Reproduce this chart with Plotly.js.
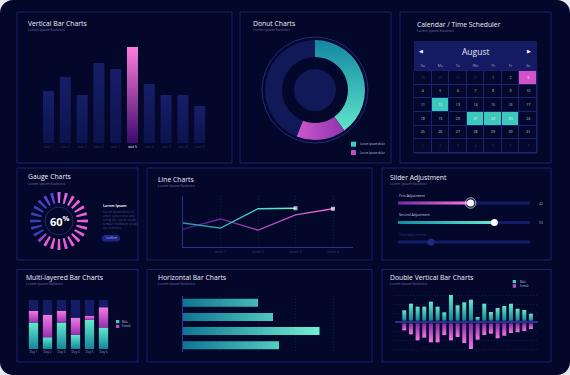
<!DOCTYPE html>
<html><head><meta charset="utf-8">
<script src="https://cdn.plot.ly/plotly-3.0.1.min.js"></script>
<style>
html,body{margin:0;padding:0;background:#e9eaf0;}
#chart{width:570px;height:375px;background:#03072a;border-radius:13px;overflow:hidden;}
</style></head><body>
<svg width="0" height="0" style="position:absolute">
<defs>
 <linearGradient id="gHi" x1="0" y1="0" x2="0" y2="1"><stop offset="0" stop-color="#ff7cdb"/><stop offset="1" stop-color="#3a0a6c"/></linearGradient>
 <linearGradient id="gNavy" x1="0" y1="0" x2="0" y2="1"><stop offset="0" stop-color="#161e68"/><stop offset="1" stop-color="#0d134e"/></linearGradient>
 <linearGradient id="gDonutTeal" x1="0" y1="0" x2="0" y2="1"><stop offset="0" stop-color="#1386a2"/><stop offset="1" stop-color="#5fe6ca"/></linearGradient>
 <linearGradient id="gDonutPink" x1="0" y1="0" x2="1" y2="0"><stop offset="0" stop-color="#cc58cf"/><stop offset="1" stop-color="#8e34ae"/></linearGradient>
 <linearGradient id="gLineTeal" x1="0" y1="0" x2="1" y2="0"><stop offset="0" stop-color="#179cb0"/><stop offset="1" stop-color="#6ef2d2"/></linearGradient>
 <linearGradient id="gLinePink" x1="0" y1="0" x2="1" y2="0"><stop offset="0" stop-color="#4c1592"/><stop offset="1" stop-color="#f46ad8"/></linearGradient>
 <linearGradient id="gHbar" gradientUnits="userSpaceOnUse" x1="0" y1="0" x2="140" y2="0"><stop offset="0" stop-color="#0d7593"/><stop offset="1" stop-color="#74f5d5"/></linearGradient>
 <linearGradient id="gTealUp" x1="0" y1="1" x2="0" y2="0"><stop offset="0" stop-color="#12869a"/><stop offset="1" stop-color="#63eacd"/></linearGradient>
 <linearGradient id="gPinkUp" x1="0" y1="0" x2="0" y2="1"><stop offset="0" stop-color="#f27be3"/><stop offset="1" stop-color="#9a2eb0"/></linearGradient>
 <linearGradient id="gPinkDown" x1="0" y1="0" x2="0" y2="1"><stop offset="0" stop-color="#8226a8"/><stop offset="1" stop-color="#f676e4"/></linearGradient>
 <linearGradient id="gSlPink" x1="0" y1="0" x2="1" y2="0"><stop offset="0" stop-color="#7a2aa2"/><stop offset="1" stop-color="#ff76d8"/></linearGradient>
 <linearGradient id="gSlTeal" x1="0" y1="0" x2="1" y2="0"><stop offset="0" stop-color="#118aa2"/><stop offset="1" stop-color="#64eccf"/></linearGradient>
</defs></svg>
<div id="chart"></div>
<script>
// ---------------- data ----------------
const statLabels = ['stat 1','stat 2','stat 3','stat 4','stat 1','stat 5','stat 6','stat 7','stat 8','stat 9'];
const statValues = [52, 66, 48, 80, 74, 96, 59, 48, 48, 37];
const statHighlight = 5;

const donutLabels = ['Series A', 'Series B', 'Rest'];
const donutValues = [40, 16, 44];
const donutLegend = ['Lorem Ipsum dolor', 'Lorem Ipsum dolor'];

const calMonth = 'August';
const weekDays = ['Su','Mo','Tu','We','Th','Fr','Sa'];
const calDays = [
  [28,29,30,31,1,2,3],
  [4,5,6,7,8,9,10],
  [11,12,13,14,15,16,17],
  [18,19,20,21,22,23,24],
  [25,26,27,28,29,30,31],
  [1,2,3,4,5,6,7]
];
const calOutside = [
  [1,1,1,1,0,0,0],[0,0,0,0,0,0,0],[0,0,0,0,0,0,0],
  [0,0,0,0,0,0,0],[0,0,0,0,0,0,0],[1,1,1,1,1,1,1]
];
const calMarks = [
  [0,0,0,0,0,0,2],[0,0,0,0,0,0,0],[0,1,0,0,0,0,0],
  [0,0,0,1,1,1,0],[0,0,0,0,0,0,0],[0,0,0,0,0,0,0]
];

const gaugeValue = 60;
const gaugeTickCount = 24;

const weekLabels = ['week 1','week 2','week 3','week 4'];
const lineTeal = [47, 37, 75, 76];
const linePink = [35, 55, 33, 63, 75];

const sliderNames = ['First Adjustment','Second Adjustment','Third Adjustment'];
const sliderPositions = [55, 73, 25];
const sliderReadouts = ['42','50',''];
const sliderEnabled = [true, true, false];

const dayLabels = ['Day 1','Day 2','Day 3','Day 4','Day 5','Day 6'];
const layerMale = [54, 24, 54, 29, 59, 44];
const layerFemale = [24, 46, 24, 35, 9, 41];
const layerTotal = 100;
const layerLegend = ['Male','Female'];

const hbarValues = [50, 60, 91, 64];

const dblMale   = [31,51,42,42,57,42,25,77,46,55,63,11,51,26,38,44,51,36,32,21];
const dblFemale = [21,33,51,43,57,57,35,51,41,59,77,49,35,31,45,37,29,27,23,17];

// ---------------- helpers ----------------
const W = 570, H = 375;
const X = p => p / W;
const Y = p => 1 - p / H;
const idx = a => a.map((_, i) => i);
const GRID = '#161e5e';
const GDASH = '1px,2px';

const data = [];

// 1. vertical bars
data.push({type:'bar', x: idx(statValues), y: statValues, xaxis:'x', yaxis:'y', width:0.655,
  marker:{color: statValues.map((_, i) => i === statHighlight ? '#c548c8' : '#121a5c'), line:{width:0}},
  meta:'vbar', hoverinfo:'skip'});

// 2. donut
data.push({type:'pie', labels: donutLabels, values: donutValues, sort:false, direction:'clockwise', rotation:0,
  hole:0.66, textinfo:'none', marker:{colors:['#2fb8b8','#b646bc','#111958'], line:{width:0}},
  domain:{x:[X(265), X(365)], y:[Y(140), Y(40)]}, meta:'donut', hoverinfo:'skip', showlegend:false});

// 3. calendar
data.push({type:'heatmap', z: calMarks, x: idx(weekDays), y: idx(calDays), xaxis:'x2', yaxis:'y2',
  zmin:0, zmax:2, colorscale:[[0,'#04082d'],[0.5,'#3cc9bb'],[1,'#d352c8']], showscale:false,
  xgap:1, ygap:1, hoverinfo:'skip'});
(function(){
  const tx=[], ty=[], tt=[], tc=[];
  calDays.forEach((row, r) => row.forEach((d, c) => {
    tx.push(c); ty.push(r); tt.push(String(d));
    tc.push(calOutside[r][c] ? '#2c3478' : (calMarks[r][c] ? '#f4f6ff' : '#c3c7e2'));
  }));
  data.push({type:'scatter', mode:'text', x: tx, y: ty, text: tt, textfont:{size:3.6, color: tc},
    xaxis:'x2', yaxis:'y2', hoverinfo:'skip'});
})();

// 4. gauge
(function(){
  const active = Math.ceil(gaugeValue / 100 * gaugeTickCount);
  const theta = [], colors = [];
  for (let i = 0; i < gaugeTickCount; i++) {
    theta.push(i * 360 / gaugeTickCount);
    if (i < active) colors.push(i < 2 ? '#d266e4' : '#ea5ed8');
    else if (i === active) colors.push('#9a3ec8');
    else colors.push(i > gaugeTickCount - 3 ? '#5a44cc' : '#3540b8');
  }
  data.push({type:'barpolar', theta: theta, r: theta.map(() => 11), base: 18, width: 6.2,
    marker:{color: colors, line:{width:0}}, subplot:'polar', hoverinfo:'skip'});
})();

// 5. line chart
data.push({type:'scatter', mode:'lines+markers', x: idx(linePink), y: linePink, xaxis:'x3', yaxis:'y3',
  line:{color:'#c050c8', width:1.4},
  marker:{symbol:'square', size: linePink.map((_, i) => i === linePink.length - 1 ? 4 : 0), color:'#ffffff', line:{width:0}},
  meta:'linePink', hoverinfo:'skip'});
data.push({type:'scatter', mode:'lines+markers', x: idx(lineTeal), y: lineTeal, xaxis:'x3', yaxis:'y3',
  line:{color:'#3cc8c0', width:1.4},
  marker:{symbol:'square', size: lineTeal.map((_, i) => i === lineTeal.length - 1 ? 4 : 0), color:'#ffffff', line:{width:0}},
  meta:'lineTeal', hoverinfo:'skip'});

// 6. sliders
const sRows = idx(sliderNames);
data.push({type:'bar', orientation:'h', x: sliderNames.map(() => 100), y: sRows, width:0.15, xaxis:'x4', yaxis:'y4',
  marker:{color:'#141c68', line:{width:0}}, hoverinfo:'skip'});
data.push({type:'bar', orientation:'h', x: sliderPositions.map((v, i) => sliderEnabled[i] ? v : 0), y: sRows, width:0.15,
  xaxis:'x4', yaxis:'y4', marker:{color:['#d55ccc','#3cc8bc','#141c68'], line:{width:0}}, meta:'sliderFill', hoverinfo:'skip'});
data.push({type:'scatter', mode:'markers', x:[sliderPositions[0]], y:[sRows[0]], xaxis:'x4', yaxis:'y4',
  marker:{size:10.5, color:'rgba(255,255,255,0.06)', line:{color:'#e8eaff', width:0.7}}, hoverinfo:'skip'});
data.push({type:'scatter', mode:'markers', x: sliderPositions, y: sRows, xaxis:'x4', yaxis:'y4',
  marker:{size:7, color: sliderEnabled.map(e => e ? '#ffffff' : '#1e2a82'), line:{width:0}}, hoverinfo:'skip'});

// 7. multi-layered bars
const layerRest = layerMale.map((m, i) => layerTotal - m - layerFemale[i]);
data.push({type:'bar', x: idx(dayLabels), y: layerMale, base: 0, width:0.664, xaxis:'x5', yaxis:'y5',
  marker:{color:'#3cc8bc', line:{width:0}}, meta:'multiTeal', hoverinfo:'skip'});
data.push({type:'bar', x: idx(dayLabels), y: layerFemale, base: layerMale, width:0.664, xaxis:'x5', yaxis:'y5',
  marker:{color:'#d060d0', line:{width:0}}, meta:'multiPink', hoverinfo:'skip'});
data.push({type:'bar', x: idx(dayLabels), y: layerRest, base: layerMale.map((m, i) => m + layerFemale[i]), width:0.664,
  xaxis:'x5', yaxis:'y5', marker:{color:'#141c68', line:{width:0}}, hoverinfo:'skip'});

// 8. horizontal bars
data.push({type:'bar', orientation:'h', x: hbarValues, y: idx(hbarValues), width:0.563, xaxis:'x6', yaxis:'y6',
  marker:{color:'#3cbab8', line:{width:0}}, meta:'hbar', hoverinfo:'skip'});

// 9. double vertical bars
data.push({type:'bar', x: idx(dblMale), y: dblMale, base: 4, width:0.6, xaxis:'x7', yaxis:'y7',
  marker:{color:'#3cc8bc', line:{width:0}}, meta:'dblTeal', hoverinfo:'skip'});
data.push({type:'bar', x: idx(dblFemale), y: dblFemale.map(v => -v), base: -4, width:0.6, xaxis:'x7', yaxis:'y7',
  marker:{color:'#c04cc4', line:{width:0}}, meta:'dblPink', hoverinfo:'skip'});

// ---------------- shapes ----------------
const PANEL = '#1b226c';
const rect = (x0, y0, x1, y1, o) => Object.assign({type:'rect', xref:'paper', yref:'paper',
  x0: X(x0), x1: X(x1), y0: Y(y1), y1: Y(y0), line:{color: PANEL, width:1}}, o || {});
const circ = (cx, cy, r, o) => Object.assign({type:'circle', xref:'paper', yref:'paper',
  x0: X(cx - r), x1: X(cx + r), y0: Y(cy + r), y1: Y(cy - r)}, o || {});
const shapes = [
  rect(17,12,232,163), rect(240,12,391,163), rect(400,12,551,163),
  rect(17,168,138,260), rect(147,168,372,260), rect(382,168,551,260),
  rect(17,269.5,138,362), rect(147,269.5,372,362), rect(382,269.5,551,362),
  circ(315, 90, 53, {line:{color:'#222b86', width:1}}),
  circ(315, 90, 21, {fillcolor:'#111958', line:{width:0}}),
  rect(414,41,537,71, {fillcolor:'#141b62', line:{width:0}, layer:'below'}),
  rect(414,71,537,153, {fillcolor:'#1c2470', line:{color:'#1c2470', width:1}, layer:'below'}),
  circ(59, 221, 14, {line:{color:'#29328e', width:0.8}}),
  rect(351,141.7,356,146.7, {fillcolor:'#3ccfbf', line:{width:0}}),
  rect(351,150,356,155, {fillcolor:'#c04cc4', line:{width:0}}),
  rect(116,320,119.3,323.3, {fillcolor:'#3ccfbf', line:{width:0}}),
  rect(116,324.7,119.3,328, {fillcolor:'#c04cc4', line:{width:0}}),
  rect(512.7,280,516,283.3, {fillcolor:'#3ccfbf', line:{width:0}}),
  rect(512.7,284.3,516,287.7, {fillcolor:'#c04cc4', line:{width:0}})
];
// confirm pill
(function(){
  const x0=102, x1=120, y0=235, y1=241.6, r=3.3, ym=(y0+y1)/2;
  const P = (x, y) => X(x) + ',' + Y(y);
  const path = 'M' + P(x0+r,y0) + ' L' + P(x1-r,y0) + ' Q' + P(x1,y0) + ' ' + P(x1,ym) + ' Q' + P(x1,y1) + ' ' + P(x1-r,y1) +
    ' L' + P(x0+r,y1) + ' Q' + P(x0,y1) + ' ' + P(x0,ym) + ' Q' + P(x0,y0) + ' ' + P(x0+r,y0) + ' Z';
  shapes.push({type:'path', xref:'paper', yref:'paper', path: path, fillcolor:'#1c2687', line:{width:0}});
})();

// ---------------- annotations ----------------
const TITLE = '#eef0fb', SUB = '#6a72a4';
const txt = (text, x, y, size, color, o) => Object.assign({text: text, x: X(x), y: Y(y), xref:'paper', yref:'paper',
  xanchor:'left', yanchor:'middle', showarrow:false, borderpad:0, font:{size: size, color: color}}, o || {});
const annotations = [];
[
  ['Vertical Bar Charts', 26.5, 23.3], ['Donut Charts', 252, 23.3], ['Calendar / Time Scheduler', 416, 24],
  ['Gauge Charts', 27, 176.7], ['Line Charts', 156.5, 179.3], ['Slider Adjustment', 389, 177.3],
  ['Multi-layered Bar Charts', 25, 277.3], ['Horizontal Bar Charts', 156.5, 277.3], ['Double Vertical Bar Charts', 389, 277.3]
].forEach(t => {
  annotations.push(txt(t[0], t[1], t[2], 6.8, TITLE));
  annotations.push(txt('Lorem Ipsum Statistics', t[1], t[2] + 6.6, 3.5, SUB));
});
annotations.push(txt(calMonth, 475.5, 51.3, 8.5, '#e6e9f8', {xanchor:'center'}));
annotations.push(txt('◀', 421, 51.3, 5, '#ffffff', {xanchor:'center', font:{size:5, color:'#ffffff', family:'DejaVu Sans'}}));
annotations.push(txt('▶', 529, 51.3, 5, '#ffffff', {xanchor:'center', font:{size:5, color:'#ffffff', family:'DejaVu Sans'}}));
donutLegend.forEach((t, i) => annotations.push(txt(t, 359, 144.2 + i * 8.3, 2.8, '#c0c4e0')));
layerLegend.forEach((t, i) => annotations.push(txt(t, 121, 321.7 + i * 4.7, 2.6, '#c0c4e0')));
layerLegend.forEach((t, i) => annotations.push(txt(t, 518.5, 281.7 + i * 4.3, 2.6, '#c0c4e0')));
annotations.push(txt('<b>' + gaugeValue + '<sup>%</sup></b>', 59.5, 221.3, 11, '#ffffff', {xanchor:'center'}));
annotations.push(txt('<b>Lorem Ipsum</b>', 102, 205, 3.6, '#e6e8f6'));
annotations.push(txt('Lorem ipsum dolor sit<br>amet, consectetur adip<br>iscing elit, sed do eiusm<br>tempor incididunt ut lab<br>ore et dolore.', 102, 208.5, 3, '#464e8c', {yanchor:'top', align:'left'}));
annotations.push(txt('Confirm', 111, 238.3, 2.9, '#b8bce6', {xanchor:'center'}));
const sliderLabelY = [195, 214.3, 234];
const sliderTrackY = [203, 222.5, 242];
sliderNames.forEach((n, i) => {
  annotations.push(txt(n, 398, sliderLabelY[i], 3.4, sliderEnabled[i] ? '#c8cce6' : '#2e388a'));
  if (sliderReadouts[i]) annotations.push(txt(sliderReadouts[i], 538, sliderTrackY[i], 3.4, '#a6abd0'));
});

// ---------------- layout ----------------
const layout = {
  width: W, height: H, margin:{l:0, r:0, t:0, b:0},
  paper_bgcolor:'rgba(0,0,0,0)', plot_bgcolor:'rgba(0,0,0,0)',
  showlegend:false, barmode:'overlay',
  font:{family:'Open Sans, sans-serif', color:'#d8dcf0'},
  xaxis:{domain:[X(40.1), X(208.1)], range:[-0.5, 9.5], tickvals: idx(statLabels),
    ticktext: statLabels.map((l, i) => i === statHighlight ? '<span style="color:#f2f3ff">' + l + '</span>' : l),
    tickfont:{size:3.6, color:'#2f3678'}, ticks:'', showgrid:false, zeroline:false, showline:false, anchor:'y', fixedrange:true},
  yaxis:{domain:[Y(143), Y(43)], range:[0, 100], visible:false, anchor:'x', fixedrange:true},
  xaxis2:{domain:[X(414), X(537)], range:[-0.5, 6.5], side:'top', tickvals: idx(weekDays), ticktext: weekDays,
    tickfont:{size:3.6, color:'#a0a6d0'}, ticks:'outside', ticklen:2, tickcolor:'rgba(0,0,0,0)',
    showgrid:false, zeroline:false, showline:false, anchor:'y2', fixedrange:true},
  yaxis2:{domain:[Y(153), Y(71)], range:[5.5, -0.5], visible:false, anchor:'x2', fixedrange:true},
  polar:{domain:{x:[X(30), X(88)], y:[Y(250), Y(192)]}, bgcolor:'rgba(0,0,0,0)', hole:0,
    angularaxis:{visible:false, rotation:90, direction:'clockwise'},
    radialaxis:{visible:false, range:[0, 29]}},
  xaxis3:{domain:[X(183), X(353)], range:[0, 4.533], tickvals:[1,2,3,4], ticktext: weekLabels,
    tickfont:{size:3.6, color:'#353d80'}, ticks:'', showgrid:true, gridcolor:GRID, griddash:GDASH, gridwidth:0.8,
    showline:true, linecolor:'#28318e', linewidth:1.4, zeroline:false, anchor:'y3', fixedrange:true},
  yaxis3:{domain:[Y(247), Y(196)], range:[0, 100], showticklabels:false, ticks:'', showgrid:false, zeroline:false,
    showline:true, linecolor:'#28318e', linewidth:1.4, anchor:'x3', fixedrange:true},
  xaxis4:{domain:[X(398), X(530)], range:[0, 100], visible:false, anchor:'y4', fixedrange:true},
  yaxis4:{domain:[Y(251.75), Y(193.25)], range:[2.5, -0.5], visible:false, anchor:'x4', fixedrange:true},
  xaxis5:{domain:[X(26.5), X(110.5)], range:[-0.5, 5.5], tickvals: idx(dayLabels), ticktext: dayLabels,
    tickfont:{size:3, color:'#9aa0c8'}, ticks:'', showgrid:false, zeroline:false, showline:false, anchor:'y5', fixedrange:true},
  yaxis5:{domain:[Y(349), Y(300)], range:[0, 100], visible:false, anchor:'x5', fixedrange:true},
  xaxis6:{domain:[X(183), X(353)], range:[0, 113.33], showticklabels:false, ticks:'', showgrid:true,
    gridcolor:GRID, griddash:GDASH, gridwidth:0.8, dtick:25, tick0:0, zeroline:false, showline:false, anchor:'y6', fixedrange:true},
  yaxis6:{domain:[Y(352.4), Y(295.6)], range:[3.5, -0.5], showticklabels:false, ticks:'', showgrid:false, zeroline:false,
    showline:true, linecolor:'#2b3aa0', linewidth:1.5, anchor:'x6', fixedrange:true},
  xaxis7:{domain:[X(395), X(538)], range:[-1.39, 20.06], showticklabels:false, ticks:'', showgrid:false,
    zeroline:false, showline:false, anchor:'y7', fixedrange:true},
  yaxis7:{domain:[Y(352), Y(292)], range:[-90, 90], showticklabels:false, ticks:'', showgrid:true,
    gridcolor:GRID, griddash:GDASH, gridwidth:0.8, dtick:27, tick0:0, zeroline:true, zerolinecolor:'#27308c',
    zerolinewidth:1.2, showline:false, anchor:'x7', fixedrange:true},
  shapes: shapes,
  annotations: annotations
};

// ---------------- gradients ----------------
const gradMap = {
  vbar: i => i === statHighlight ? 'gHi' : 'gNavy',
  donut: i => ['gDonutTeal', 'gDonutPink', null][i],
  hbar: () => 'gHbar',
  multiTeal: () => 'gTealUp', multiPink: () => 'gPinkUp',
  dblTeal: () => 'gTealUp', dblPink: () => 'gPinkDown',
  sliderFill: i => ['gSlPink', 'gSlTeal', null][i]
};
const strokeMap = {lineTeal:'gLineTeal', linePink:'gLinePink'};
const gd = document.getElementById('chart');
function applyGradients(){
  gd.querySelectorAll('g.trace').forEach(g => {
    const cd = g.__data__;
    if (!cd || !cd[0] || !cd[0].trace) return;
    const meta = cd[0].trace.meta;
    if (strokeMap[meta]) {
      g.querySelectorAll('path.js-line').forEach(p => { p.style.stroke = 'url(#' + strokeMap[meta] + ')'; });
      return;
    }
    const f = gradMap[meta];
    if (!f) return;
    if (meta === 'donut') {
      g.querySelectorAll('g.slice').forEach((s, k) => {
        const d = s.__data__; const id = f(d && d.i !== undefined ? d.i : k);
        const p = s.querySelector('path.surface');
        if (id && p) p.style.fill = 'url(#' + id + ')';
      });
      return;
    }
    g.querySelectorAll('g.point').forEach((pt, k) => {
      const d = pt.__data__; const id = f(d && d.i !== undefined ? d.i : k);
      const p = pt.querySelector('path');
      if (id && p) p.style.fill = 'url(#' + id + ')';
    });
  });
}
Plotly.newPlot(gd, data, layout, {staticPlot:true, displayModeBar:false, responsive:false}).then(() => {
  applyGradients();
  gd.on && gd.on('plotly_afterplot', applyGradients);
});
</script>
</body></html>
